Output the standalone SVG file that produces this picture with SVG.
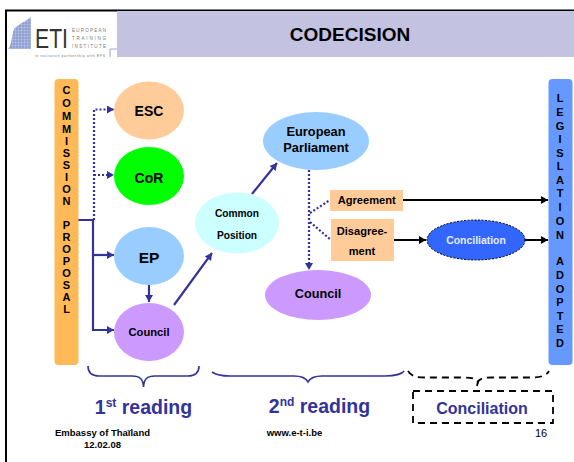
<svg xmlns="http://www.w3.org/2000/svg" width="574" height="462" viewBox="0 0 574 462">
<defs>
<marker id="ab" markerUnits="userSpaceOnUse" markerWidth="9" markerHeight="9" refX="7" refY="4" orient="auto"><path d="M0,0 L7,4 L0,8 Z" fill="#333399"/></marker>
<marker id="ak" markerUnits="userSpaceOnUse" markerWidth="9" markerHeight="9" refX="7" refY="4" orient="auto"><path d="M0,0 L7,4 L0,8 Z" fill="#000"/></marker>
<pattern id="mesh" patternUnits="userSpaceOnUse" width="3" height="3"><rect width="3" height="3" fill="#8fa0d2"/><path d="M0,0 H3 M0,0 V3" stroke="#c6cfe9" stroke-width="0.8"/></pattern>
</defs>
<style>
text{font-family:"Liberation Sans",Arial,sans-serif;font-weight:bold;fill:#000}
.m{text-anchor:middle}
.solid{fill:none;stroke:#333399;stroke-width:2.200}
.dot{fill:none;stroke:#333399;stroke-width:2.200;stroke-dasharray:2 2}
.blk{fill:none;stroke:#000;stroke-width:2}
.brace{fill:none;stroke:#333399;stroke-width:1.600}
.dash{fill:none;stroke:#000;stroke-width:1.800;stroke-dasharray:7 5}
.lab{fill:#333399}
.v{font-size:11px;text-anchor:middle}
.logo{font-weight:normal;fill:#777}
</style>
<rect width="574" height="462" fill="#fff"/>
<path d="M6,462 V10.500 H574" fill="none" stroke="#000" stroke-width="2"/>
<g id="header">
<rect x="117" y="11" width="457" height="46" fill="#c3c3e1"/>
<path d="M8,49 C13,44 11,30 16,27 C21,23 26,21 31,17 V49 Z" fill="url(#mesh)"/>
<text x="35" y="48" font-size="28" textLength="33" lengthAdjust="spacingAndGlyphs" style="font-weight:normal;fill:#333">ETI</text>
<text x="72" y="32" font-size="4.500" textLength="34" class="logo">EUROPEAN</text>
<text x="72" y="40" font-size="4.500" textLength="34" class="logo">TRAINING</text>
<text x="72" y="48" font-size="4.500" textLength="34" class="logo">INSTITUTE</text>
<text x="35" y="57" font-size="3.500" textLength="70" class="logo">in exclusive partnership with EPS</text>
<path d="M110,57 V49 H117" fill="none" stroke="#9aaac8" stroke-width="1"/>
<text x="350" y="41" class="m" font-size="19">CODECISION</text>
</g>
<g id="connectors">
<path class="solid" d="M78,220 H93 V330 H114" marker-end="url(#ab)"/>
<path class="solid" d="M93,255 H114" marker-end="url(#ab)"/>
<path class="dot" d="M94,220 V109.500 H114" marker-end="url(#ab)"/>
<path class="dot" d="M94,175 H114" marker-end="url(#ab)"/>
<path class="solid" d="M149,285 V302" marker-end="url(#ab)"/>
<path class="solid" d="M174,305 L212,253" marker-end="url(#ab)"/>
<path class="solid" d="M252,194 L277,163" marker-end="url(#ab)"/>
<path class="dot" d="M309,170 V270" marker-end="url(#ab)"/>
<path class="dot" d="M310,213 L330,200"/>
<path class="dot" d="M310,222 L331,240"/>
<path class="blk" d="M403,200 H548" marker-end="url(#ak)"/>
<path class="blk" d="M394,240 H426" marker-end="url(#ak)"/>
<path class="blk" d="M525,240 H548" marker-end="url(#ak)"/>
</g>
<g id="commission-proposal">
<rect x="54.500" y="79" width="24" height="286" rx="4" fill="#ffb957"/>
<text class="v"><tspan x="66.500" y="94">C</tspan><tspan x="66.500" y="107">O</tspan><tspan x="66.500" y="120">M</tspan><tspan x="66.500" y="133">M</tspan><tspan x="66.500" y="145">I</tspan><tspan x="66.500" y="157">S</tspan><tspan x="66.500" y="169">S</tspan><tspan x="66.500" y="181">I</tspan><tspan x="66.500" y="193">O</tspan><tspan x="66.500" y="205">N</tspan><tspan x="66.500" y="229">P</tspan><tspan x="66.500" y="241">R</tspan><tspan x="66.500" y="253">O</tspan><tspan x="66.500" y="265">P</tspan><tspan x="66.500" y="277">O</tspan><tspan x="66.500" y="289">S</tspan><tspan x="66.500" y="301">A</tspan><tspan x="66.500" y="313">L</tspan></text>
</g>
<g id="legislation-adopted">
<rect x="548.500" y="79" width="24" height="286" rx="4" fill="#6699ff"/>
<text class="v"><tspan x="560" y="102">L</tspan><tspan x="560" y="116">E</tspan><tspan x="560" y="130">G</tspan><tspan x="560" y="143">I</tspan><tspan x="560" y="157">S</tspan><tspan x="560" y="170">L</tspan><tspan x="560" y="184">A</tspan><tspan x="560" y="197">T</tspan><tspan x="560" y="211">I</tspan><tspan x="560" y="225">O</tspan><tspan x="560" y="239">N</tspan><tspan x="560" y="265">A</tspan><tspan x="560" y="279">D</tspan><tspan x="560" y="293">O</tspan><tspan x="560" y="306">P</tspan><tspan x="560" y="320">T</tspan><tspan x="560" y="333">E</tspan><tspan x="560" y="347">D</tspan></text>
</g>
<g id="esc"><ellipse cx="149" cy="110.500" rx="35" ry="29" fill="#ffcc99"/><text x="149" y="115.500" class="m" font-size="14">ESC</text></g>
<g id="cor"><ellipse cx="149" cy="176" rx="35" ry="29" fill="#00ff00"/><text x="149" y="183" class="m" font-size="14">CoR</text></g>
<g id="ep"><ellipse cx="149" cy="256" rx="35" ry="29" fill="#99ccff"/><text x="149" y="263" class="m" font-size="15.500">EP</text></g>
<g id="council-1"><ellipse cx="149" cy="332" rx="35" ry="29" fill="#cc99ff"/><text x="149" y="336" class="m" font-size="11.200">Council</text></g>
<g id="common-position"><ellipse cx="237" cy="223" rx="42" ry="30.500" fill="#ccffff"/><text x="237" y="217" class="m" font-size="10.200">Common</text><text x="237" y="239" class="m" font-size="10.200">Position</text></g>
<g id="european-parliament"><ellipse cx="316" cy="141" rx="53" ry="29" fill="#99ccff"/><text x="316" y="136" class="m" font-size="12.800">European</text><text x="316" y="152" class="m" font-size="12.800">Parliament</text></g>
<g id="council-2"><ellipse cx="318" cy="295" rx="53" ry="25" fill="#cc99ff"/><text x="318" y="298" class="m" font-size="12.700">Council</text></g>
<g id="agreement"><rect x="330" y="190" width="73" height="21" fill="#ffcc99"/><text x="366.700" y="204" class="m" font-size="11.100">Agreement</text></g>
<g id="disagreement"><rect x="331" y="219" width="63" height="42" fill="#ffcc99"/><text x="362" y="235" class="m" font-size="11.100">Disagree-</text><text x="362" y="255" class="m" font-size="11.100">ment</text></g>
<g id="conciliation-node"><ellipse cx="476" cy="240" rx="49" ry="20" fill="#3366ff" stroke="#000" stroke-width="1" stroke-dasharray="2 1.500"/><text x="476" y="244" class="m" font-size="10.400" style="fill:#e6ecff">Conciliation</text></g>
<g id="brace-1"><path class="brace" d="M88,366 C88,373 92,376 99,376 H132 C140,376 143,379 143.500,387 C144,379 147,376 155,376 H188 C195,376 199,373 199,366"/><text x="143.500" y="414" class="m lab" font-size="19.500" style="fill:#333399">1<tspan font-size="12" dy="-7">st</tspan><tspan dy="7"> reading</tspan></text></g>
<g id="brace-2"><path class="brace" d="M212,372 C216,375 222,376 230,376 H294 C301,376 306,378 308,382 C310,378 315,376 322,376 H385 C394,376 402,374 404,371"/><text x="319.500" y="413" class="m lab" font-size="19.500" style="fill:#333399">2<tspan font-size="12" dy="-7">nd</tspan><tspan dy="7"> reading</tspan></text></g>
<g id="brace-3"><path class="dash" d="M408,371 C411,376 416,377.500 425,377.500 H464 C473,377.500 477,379 478,382 C479,379 483,377.500 492,377.500 H533 C541,377.500 547,375 549,371"/><path class="dash" d="M478,381 L477,386"/></g>
<g id="conciliation-label"><rect x="413" y="391" width="140" height="32" class="dash"/><text x="482" y="414" class="m lab" font-size="16" style="fill:#333399">Conciliation</text></g>
<g id="footer">
<text x="102.500" y="436" class="m" font-size="9.500">Embassy of Thaïland</text>
<text x="102.500" y="448" class="m" font-size="9.500">12.02.08</text>
<text x="294.500" y="436" class="m" font-size="9.500">www.e-t-i.be</text>
<text x="541" y="437" class="m" font-size="11" style="font-weight:normal">16</text>
</g>
</svg>
